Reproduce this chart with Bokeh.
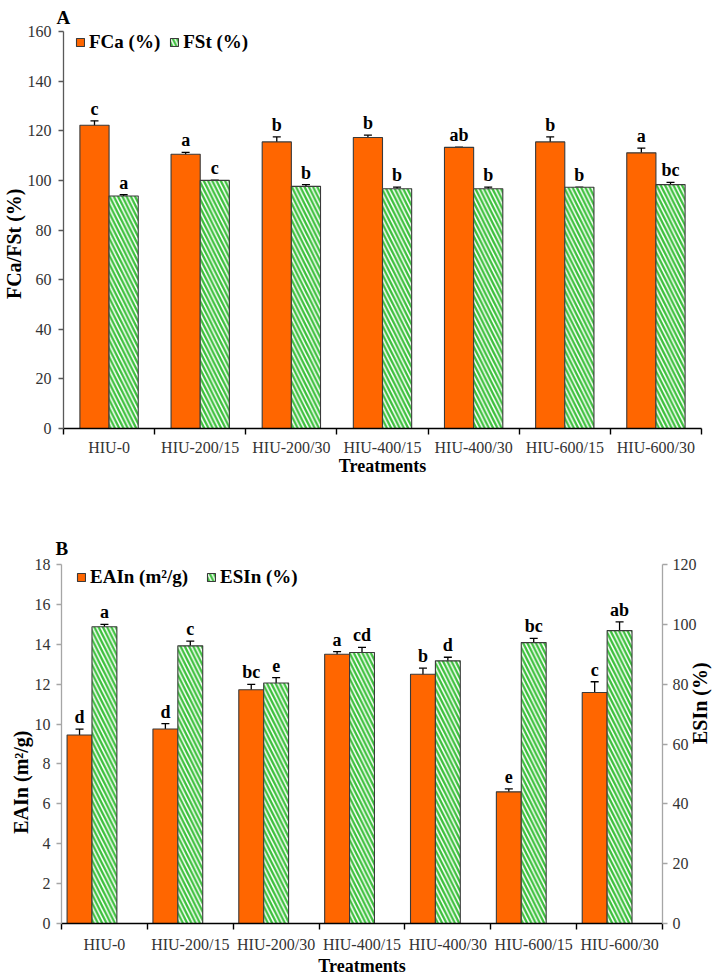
import math
from bokeh.plotting import figure
from bokeh.models import (Range1d, LinearAxis, FixedTicker, ColumnDataSource, Whisker, TeeHead,
                          Legend, LegendItem, Title)
from bokeh.embed import file_html
from bokeh.resources import INLINE
from bokeh.core.properties import value

# ---------------- data ----------------
treatments = ["HIU-0", "HIU-200/15", "HIU-200/30", "HIU-400/15", "HIU-400/30", "HIU-600/15", "HIU-600/30"]

fca = [122.2, 110.5, 115.5, 117.3, 113.3, 115.5, 111.1]
fca_err = [1.8, 0.8, 2.0, 0.9, 0.0, 2.0, 1.9]
fca_letters = ["c", "a", "b", "b", "ab", "b", "a"]

fst = [93.7, 100.0, 97.6, 96.6, 96.6, 97.2, 98.3]
fst_err = [0.5, 0.0, 0.7, 0.7, 0.7, 0.0, 0.9]
fst_letters = ["a", "c", "b", "b", "b", "b", "bc"]

eain = [9.45, 9.75, 11.72, 13.5, 12.5, 6.6, 11.58]
eain_err = [0.3, 0.27, 0.27, 0.13, 0.3, 0.15, 0.54]
eain_letters = ["d", "d", "bc", "a", "b", "e", "c"]

esin = [99.2, 92.8, 80.4, 90.6, 87.8, 93.9, 97.9]
esin_err = [0.8, 1.6, 1.8, 1.7, 1.2, 1.4, 2.9]
esin_letters = ["a", "c", "e", "cd", "d", "bc", "ab"]

ticks_a = [0, 20, 40, 60, 80, 100, 120, 140, 160]
ticks_b_left = [0, 2, 4, 6, 8, 10, 12, 14, 16, 18]
ticks_b_right = [0, 20, 40, 60, 80, 100, 120]

# ---------------- style ----------------
SERIF = "Liberation Serif"
ORANGE = "#FF6600"
GREEN = "#3CC03C"
EDGE = "#3a3a3a"
TXT = "#333333"

n = len(treatments)
centers = [i + 0.5 for i in range(n)]
bounds = [float(i) for i in range(n + 1)]


def base_fig(height, top, bottom, left, right, ymax, lab_standoff, title_standoff):
    p = figure(width=724, height=height, x_range=Range1d(0, n), y_range=Range1d(0, ymax),
               output_backend="svg", toolbar_location=None,
               min_border_left=left, min_border_right=right,
               min_border_top=top, min_border_bottom=bottom,
               x_axis_location=None, y_axis_location=None)
    p.grid.visible = False
    p.outline_line_color = None
    p.background_fill_color = "white"
    p.border_fill_color = "white"
    xa = LinearAxis(ticker=FixedTicker(ticks=centers, minor_ticks=bounds),
                    major_label_overrides={c: t for c, t in zip(centers, treatments)},
                    major_tick_out=0, major_tick_in=0, minor_tick_out=6, minor_tick_in=0,
                    axis_line_color="black", axis_line_width=1.4,
                    minor_tick_line_color="black", minor_tick_line_width=1.4,
                    major_label_text_font=SERIF, major_label_text_font_size="16px",
                    major_label_text_color=TXT, major_label_standoff=lab_standoff,
                    axis_label="Treatments", axis_label_text_font=SERIF,
                    axis_label_text_font_style="bold", axis_label_text_font_size="18px",
                    axis_label_text_color="black", axis_label_standoff=title_standoff)
    p.add_layout(xa, "below")
    return p


def y_axis(ticks, color, standoff, range_name=None):
    kw = {"y_range_name": range_name} if range_name else {}
    return LinearAxis(ticker=FixedTicker(ticks=ticks), axis_line_color=color, axis_line_width=1.3,
                      major_tick_line_color=color, major_tick_line_width=1.3,
                      major_tick_out=5, major_tick_in=0, minor_tick_out=0, minor_tick_in=0,
                      major_label_text_font=SERIF, major_label_text_font_size="16px",
                      major_label_text_color=TXT, major_label_standoff=standoff, **kw)


def series(p, offset, width, vals, errs, letters, hatched, range_name=None):
    kw = {"y_range_name": range_name} if range_name else {}
    src = ColumnDataSource(dict(
        x=[c + offset for c in centers], top=vals,
        upper=[v + e for v, e in zip(vals, errs)],
        lower=[v - e for v, e in zip(vals, errs)],
        lbl=letters))
    if hatched:
        r = p.vbar(x="x", top="top", bottom=0, width=width, source=src, fill_color="white",
                   hatch_pattern="left_diagonal_line", hatch_color=GREEN, hatch_weight=2.3,
                   hatch_scale=8.5, line_color=EDGE, line_width=1.1, **kw)
    else:
        r = p.vbar(x="x", top="top", bottom=0, width=width, source=src, fill_color=ORANGE,
                   line_color=EDGE, line_width=1.1, **kw)
    w = Whisker(source=src, base="x", upper="upper", lower="lower", dimension="height",
                line_color="black", line_width=1.3,
                upper_head=TeeHead(size=8, line_color="black", line_width=1.3),
                lower_head=TeeHead(size=8, line_color="black", line_width=1.3), **kw)
    p.add_layout(w)
    p.text(x="x", y="upper", text="lbl", source=src, y_offset=-12,
           text_align="center", text_baseline="alphabetic",
           text_font=value(SERIF), text_font_style="bold", text_font_size="18px",
           text_color="black", **kw)
    return r


def make_legend(items, loc, spacing):
    return Legend(items=items, location=loc, orientation="horizontal",
                  margin=0, padding=0, spacing=spacing, glyph_width=10, glyph_height=10,
                  label_standoff=4, label_text_font=SERIF, label_text_font_style="bold",
                  label_text_font_size="19px", label_text_color="black",
                  border_line_color=None, background_fill_alpha=0)


def bold_title(text, size, align="center", offset=0, standoff=0):
    return Title(text=text, align=align, offset=offset, standoff=standoff,
                 text_font=SERIF, text_font_style="bold", text_font_size=size,
                 text_color="black")


# ---------------- panel A ----------------
pa = base_fig(478, 31, 49, 62, 23, 160, 4, -3)
pa.title = bold_title("A", "19px", align="left", offset=-7, standoff=7)
pa.add_layout(y_axis(ticks_a, "#595959", 7), "left")
pa.add_layout(bold_title("FCa/FSt (%)", "20px", align="right", offset=157), "left")
ra1 = series(pa, -0.16, 0.32, fca, fca_err, fca_letters, False)
ra2 = series(pa, 0.16, 0.32, fst, fst_err, fst_letters, True)
pa.add_layout(make_legend([LegendItem(label="FCa (%)", renderers=[ra1]),
                           LegendItem(label="FSt (%)", renderers=[ra2])], (12, 375), 9))

# ---------------- panel B ----------------
pb = base_fig(500, 86, 54, 61, 59, 18, 6, 0)
pb.title = bold_title("B", "19px", align="left", offset=-6, standoff=12)
pb.extra_y_ranges = {"right": Range1d(0, 120)}
pb.add_layout(y_axis(ticks_b_left, "#A6A6A6", 6), "left")
pb.add_layout(bold_title("EAIn (m²/g)", "20px", align="right", offset=166), "left")
right_axis = y_axis(ticks_b_right, "#A6A6A6", 5, "right")
if "axis_label_orientation" in right_axis.properties():
    right_axis.axis_label = "ESIn (%)"
    right_axis.axis_label_orientation = math.pi / 2
    right_axis.axis_label_standoff = 0
    right_axis.axis_label_text_font = SERIF
    right_axis.axis_label_text_font_style = "bold"
    right_axis.axis_label_text_font_size = "20px"
    right_axis.axis_label_text_color = "black"
    pb.add_layout(right_axis, "right")
else:
    pb.add_layout(right_axis, "right")
    pb.add_layout(bold_title("ESIn (%)", "20px"), "right")
rb1 = series(pb, -0.29, 0.29, eain, eain_err, eain_letters, False)
rb2 = series(pb, 0.0, 0.29, esin, esin_err, esin_letters, True, "right")
pb.add_layout(make_legend([LegendItem(label="EAIn (m²/g)", renderers=[rb1]),
                           LegendItem(label="ESIn (%)", renderers=[rb2])], (15, 335), 18))

open("out.html", "w").write(file_html([pa, pb], INLINE))
